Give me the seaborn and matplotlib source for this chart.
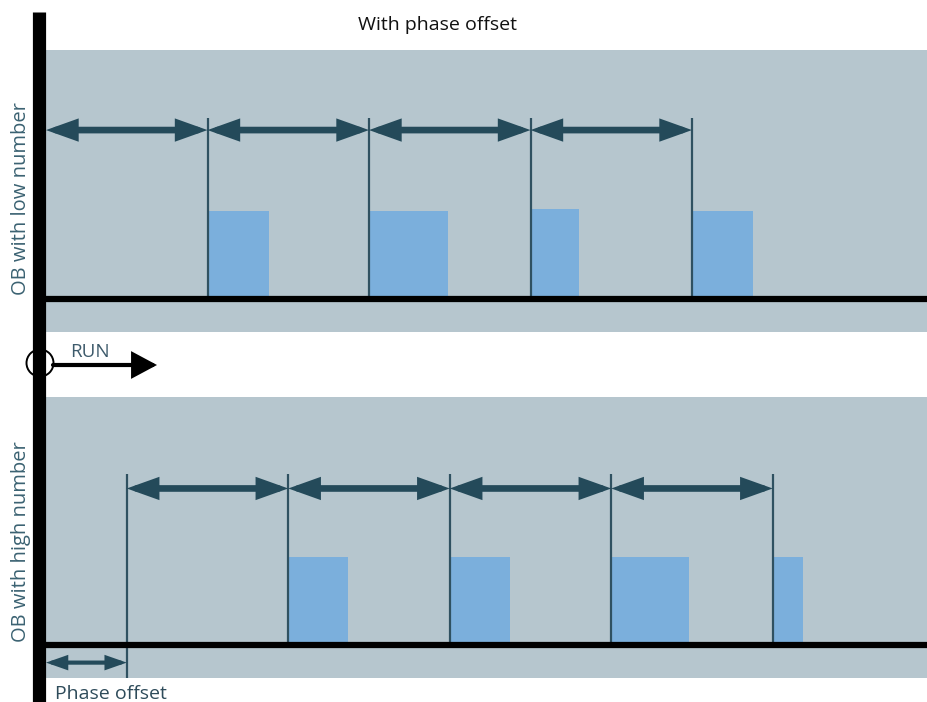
import seaborn as sns
import matplotlib.pyplot as plt
from matplotlib.patches import Ellipse

# Timing values in ms
low_marks = [0, 10, 20, 30, 40]          # cycle boundaries, OB with low number
low_starts = [10, 20, 30, 40]            # execution start
low_exec = [3.8, 4.9, 3.0, 3.8]          # execution time
low_load = [1.0, 1.0, 1.02, 1.0]

high_marks = [5, 15, 25, 35, 45]         # cycle boundaries, OB with high number
high_starts = [15, 25, 35, 45]
high_exec = [3.7, 3.7, 4.8, 1.9]
high_load = [1.0, 1.0, 1.0, 1.0]
phase_offset = [0, 5]

title = 'With phase offset'
panel_labels = ['OB with low number', 'OB with high number']

panel_color = '#b6c6ce'
bar_color = '#7bafdc'
line_color = '#2f5161'
arrow_color = '#244a5a'
label_color = '#3b6272'

sns.set_theme(style='white', rc={'axes.facecolor': panel_color})
plt.rcParams['font.family'] = ['Open Sans', 'DejaVu Sans']

W, H = 927, 702
fig = plt.figure(figsize=(W / 100, H / 100), dpi=100)


def px_axes(x0, y0, x1, y1):
    # axes placed by pixel box (top-left origin)
    return fig.add_axes([x0 / W, 1 - y1 / H, (x1 - x0) / W, (y1 - y0) / H])


def dbl_arrow(ax, a, b, y, lw=4.8, hl=1.4, hw=0.5, color=arrow_color):
    ax.annotate('', xy=(b, y), xytext=(a, y),
                arrowprops=dict(arrowstyle=f'<|-|>,head_length={hl},head_width={hw}',
                                lw=lw, color=color, shrinkA=0, shrinkB=0,
                                joinstyle='miter', mutation_scale=10))


xmax = (W - 46) / 16.15

# top panel
ax1 = px_axes(46, 50, W, 332)
ax1.bar(low_starts, low_load, width=low_exec, align='edge', color=bar_color, lw=0)
ax1.vlines(low_marks[1:], 0, 2.06, color=line_color, lw=1.6)
for a, b in zip(low_marks[:-1], low_marks[1:]):
    dbl_arrow(ax1, a, b, 1.92)
ax1.axhline(0, color='black', lw=4.5)
ax1.set_xlim(0, xmax)
ax1.set_ylim(-0.375, 2.83)

# bottom panel
ax2 = px_axes(46, 397, W, 678)
ax2.bar(high_starts, high_load, width=high_exec, align='edge', color=bar_color, lw=0)
ax2.vlines(high_marks[1:], 0, 1.94, color=line_color, lw=1.6)
ax2.vlines(high_marks[0], -0.4, 1.94, color=line_color, lw=1.6)
for a, b in zip(high_marks[:-1], high_marks[1:]):
    dbl_arrow(ax2, a, b, 1.78)
dbl_arrow(ax2, phase_offset[0], phase_offset[1], -0.2, lw=3, hl=1.0, hw=0.35)
ax2.axhline(0, color='black', lw=4.5)
ax2.set_xlim(0, xmax)
ax2.set_ylim(-0.375, 2.82)

for ax in (ax1, ax2):
    ax.set_xticks([])
    ax.set_yticks([])
    sns.despine(ax=ax, left=True, bottom=True)

# overlay in pixel coordinates for the time axis, RUN marker and texts
deco = fig.add_axes([0, 0, 1, 1], facecolor='none')
deco.set_xlim(0, W)
deco.set_ylim(H, 0)
deco.axis('off')
deco.plot([39.5, 39.5], [12, H], color='black', lw=9.5, solid_capstyle='butt')
deco.add_patch(Ellipse((40, 363), 27, 27, facecolor='none', edgecolor='black', lw=1.4))
deco.annotate('', xy=(157, 365), xytext=(53, 365),
              arrowprops=dict(arrowstyle='-|>,head_length=1.4,head_width=0.75',
                              lw=3, color='black', shrinkA=0, shrinkB=0,
                              joinstyle='miter', mutation_scale=10))
deco.text(70, 352, 'RUN', color='#3d5a6b', fontsize=13.5, va='center', ha='left')
deco.text(438, 25, title, color='#111111', fontsize=14, ha='center', va='center')
deco.text(21, 199, panel_labels[0], color=label_color, fontsize=14.5,
          rotation=90, ha='center', va='center')
deco.text(21, 542, panel_labels[1], color=label_color, fontsize=14.5,
          rotation=90, ha='center', va='center')
deco.text(55, 694, 'Phase offset', color='#2e4b5a', fontsize=14, ha='left', va='center')

fig.savefig('out.png', dpi=100)
plt.close(fig)
